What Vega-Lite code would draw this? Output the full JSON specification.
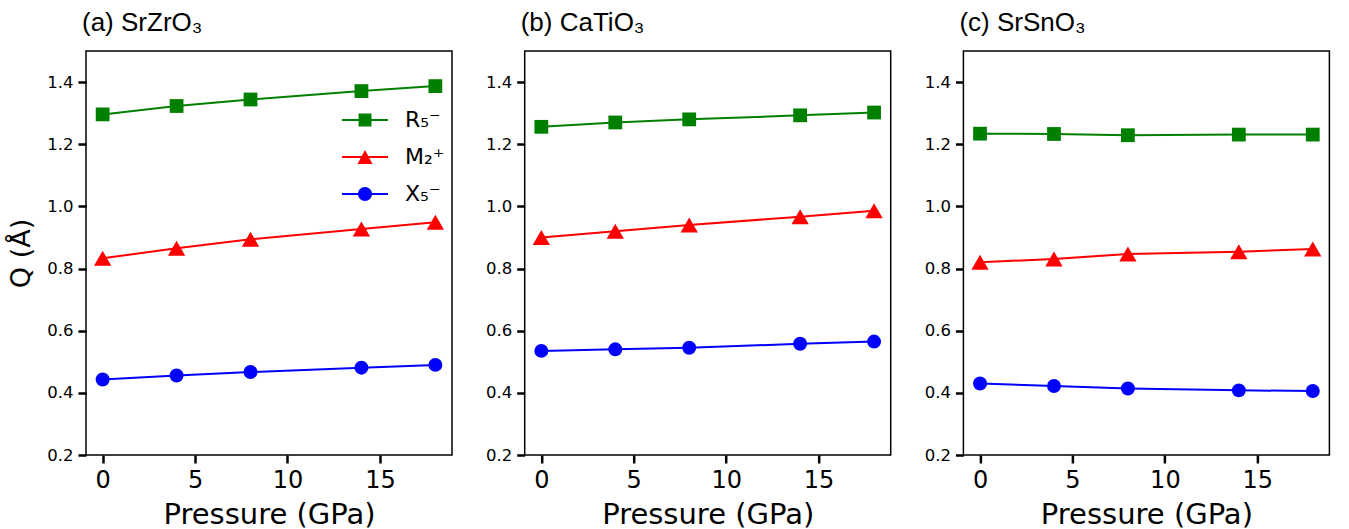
{
  "$schema": "https://vega.github.io/schema/vega-lite/v6.json",
  "autosize": {"type": "pad"},
  "padding": {"left": 7, "top": 9, "right": 0, "bottom": 0},
  "background": "white",
  "spacing": 72.7,
  "bounds": "flush",
  "config": {
    "view": {"stroke": "black", "strokeWidth": 1.5},
    "axis": {"domain": false, "grid": false, "tickColor": "black", "tickWidth": 2.5, "tickSize": 8, "labelColor": "black", "labelFont": "DejaVu Sans", "titleFont": "DejaVu Sans", "titleFontWeight": "normal", "titleColor": "black"},
    "axisX": {"labelFontSize": 24, "titleFontSize": 29, "labelPadding": 5, "titlePadding": 8},
    "axisY": {"labelFontSize": 16.5, "labelPadding": 5, "titleFontSize": 27, "titlePadding": 11},
    "title": {"anchor": "start", "frame": "group", "font": "Liberation Sans", "fontSize": 26, "fontWeight": "normal", "color": "black", "offset": 15, "dx": -4}
  },
  "datasets": {
    "d": [
      {"panel": "a", "series": "R₅⁻", "P": 0, "Q": 1.296},
      {"panel": "a", "series": "R₅⁻", "P": 4, "Q": 1.323},
      {"panel": "a", "series": "R₅⁻", "P": 8, "Q": 1.344},
      {"panel": "a", "series": "R₅⁻", "P": 14, "Q": 1.371},
      {"panel": "a", "series": "R₅⁻", "P": 18, "Q": 1.387},
      {"panel": "a", "series": "M₂⁺", "P": 0, "Q": 0.833},
      {"panel": "a", "series": "M₂⁺", "P": 4, "Q": 0.865},
      {"panel": "a", "series": "M₂⁺", "P": 8, "Q": 0.894},
      {"panel": "a", "series": "M₂⁺", "P": 14, "Q": 0.927},
      {"panel": "a", "series": "M₂⁺", "P": 18, "Q": 0.949},
      {"panel": "a", "series": "X₅⁻", "P": 0, "Q": 0.443},
      {"panel": "a", "series": "X₅⁻", "P": 4, "Q": 0.456},
      {"panel": "a", "series": "X₅⁻", "P": 8, "Q": 0.467},
      {"panel": "a", "series": "X₅⁻", "P": 14, "Q": 0.481},
      {"panel": "a", "series": "X₅⁻", "P": 18, "Q": 0.490},
      {"panel": "b", "series": "R₅⁻", "P": 0, "Q": 1.256},
      {"panel": "b", "series": "R₅⁻", "P": 4, "Q": 1.270},
      {"panel": "b", "series": "R₅⁻", "P": 8, "Q": 1.280},
      {"panel": "b", "series": "R₅⁻", "P": 14, "Q": 1.293},
      {"panel": "b", "series": "R₅⁻", "P": 18, "Q": 1.302},
      {"panel": "b", "series": "M₂⁺", "P": 0, "Q": 0.900},
      {"panel": "b", "series": "M₂⁺", "P": 4, "Q": 0.920},
      {"panel": "b", "series": "M₂⁺", "P": 8, "Q": 0.940},
      {"panel": "b", "series": "M₂⁺", "P": 14, "Q": 0.967},
      {"panel": "b", "series": "M₂⁺", "P": 18, "Q": 0.986},
      {"panel": "b", "series": "X₅⁻", "P": 0, "Q": 0.535},
      {"panel": "b", "series": "X₅⁻", "P": 4, "Q": 0.540},
      {"panel": "b", "series": "X₅⁻", "P": 8, "Q": 0.545},
      {"panel": "b", "series": "X₅⁻", "P": 14, "Q": 0.558},
      {"panel": "b", "series": "X₅⁻", "P": 18, "Q": 0.565},
      {"panel": "c", "series": "R₅⁻", "P": 0, "Q": 1.234},
      {"panel": "c", "series": "R₅⁻", "P": 4, "Q": 1.233},
      {"panel": "c", "series": "R₅⁻", "P": 8, "Q": 1.229},
      {"panel": "c", "series": "R₅⁻", "P": 14, "Q": 1.231},
      {"panel": "c", "series": "R₅⁻", "P": 18, "Q": 1.231},
      {"panel": "c", "series": "M₂⁺", "P": 0, "Q": 0.820},
      {"panel": "c", "series": "M₂⁺", "P": 4, "Q": 0.831},
      {"panel": "c", "series": "M₂⁺", "P": 8, "Q": 0.847},
      {"panel": "c", "series": "M₂⁺", "P": 14, "Q": 0.854},
      {"panel": "c", "series": "M₂⁺", "P": 18, "Q": 0.863},
      {"panel": "c", "series": "X₅⁻", "P": 0, "Q": 0.430},
      {"panel": "c", "series": "X₅⁻", "P": 4, "Q": 0.422},
      {"panel": "c", "series": "X₅⁻", "P": 8, "Q": 0.414},
      {"panel": "c", "series": "X₅⁻", "P": 14, "Q": 0.408},
      {"panel": "c", "series": "X₅⁻", "P": 18, "Q": 0.406}
    ]
  },
  "hconcat": [
    {
      "width": 366, "height": 404,
      "title": {"text": "(a)  SrZrO₃"},
      "data": {"name": "d"},
      "transform": [{"filter": "datum.panel === 'a'"}],
      "encoding": {
        "x": {"field": "P", "type": "quantitative", "scale": {"domain": [-0.9, 18.9], "nice": false, "zero": false}, "axis": {"values": [0, 5, 10, 15], "title": "Pressure (GPa)"}},
        "y": {"field": "Q", "type": "quantitative", "scale": {"domain": [0.2, 1.5], "nice": false, "zero": false}, "axis": {"values": [0.2, 0.4, 0.6, 0.8, 1.0, 1.2, 1.4], "format": ".1f", "title": "Q (Å)"}},
        "color": {"field": "series", "type": "nominal", "scale": {"domain": ["R₅⁻", "M₂⁺", "X₅⁻"], "range": ["#008000", "#ff0000", "#0000ff"]},
          "legend": {
            "title": null, "orient": "none", "legendX": 260.5, "legendY": 50.5, "padding": 0,
            "symbolSize": 1369, "symbolStrokeWidth": 0, "symbolOpacity": 1,
            "labelFont": "DejaVu Sans", "labelFontSize": 22, "labelColor": "black", "labelOffset": 21.5, "rowPadding": 7,
            "encode": {"symbols": {"update": {
              "size": {"value": 1369},
              "strokeWidth": {"value": 0},
              "opacity": {"value": 1},
              "fillOpacity": {"value": 1},
              "fill": [
                {"test": "datum.value === 'R₅⁻'", "value": "#008000"},
                {"test": "datum.value === 'M₂⁺'", "value": "#ff0000"},
                {"value": "#0000ff"}
              ],
              "shape": [
                {"test": "datum.value === 'R₅⁻'", "value": "M-1.243,-0.054H1.243V0.054H-1.243Z M-0.351,-0.351H0.351V0.351H-0.351Z"},
                {"test": "datum.value === 'M₂⁺'", "value": "M-1.243,-0.054H1.243V0.054H-1.243Z M0,-0.378L0.405,0.378H-0.405Z"},
                {"value": "M-1.243,-0.054H1.243V0.054H-1.243Z M-0.378,0A0.378,0.378 0 1,1 0.378,0A0.378,0.378 0 1,1 -0.378,0Z"}
              ]
            }}}
          }
        }
      },
      "layer": [
        {"mark": {"type": "line", "strokeWidth": 2}},
        {"transform": [{"filter": "datum.series === 'R₅⁻'"}], "mark": {"type": "point", "shape": "square", "size": 190, "filled": true, "opacity": 1}},
        {"transform": [{"filter": "datum.series === 'M₂⁺'"}], "mark": {"type": "point", "shape": "triangle-up", "size": 300, "filled": true, "opacity": 1}},
        {"transform": [{"filter": "datum.series === 'X₅⁻'"}], "mark": {"type": "point", "shape": "circle", "size": 195, "filled": true, "opacity": 1}}
      ]
    },
    {
      "width": 366, "height": 404,
      "title": {"text": "(b)  CaTiO₃"},
      "data": {"name": "d"},
      "transform": [{"filter": "datum.panel === 'b'"}],
      "encoding": {
        "x": {"field": "P", "type": "quantitative", "scale": {"domain": [-0.9, 18.9], "nice": false, "zero": false}, "axis": {"values": [0, 5, 10, 15], "title": "Pressure (GPa)"}},
        "y": {"field": "Q", "type": "quantitative", "scale": {"domain": [0.2, 1.5], "nice": false, "zero": false}, "axis": {"values": [0.2, 0.4, 0.6, 0.8, 1.0, 1.2, 1.4], "format": ".1f", "title": null}},
        "color": {"field": "series", "type": "nominal", "scale": {"domain": ["R₅⁻", "M₂⁺", "X₅⁻"], "range": ["#008000", "#ff0000", "#0000ff"]}, "legend": null}
      },
      "layer": [
        {"mark": {"type": "line", "strokeWidth": 2}},
        {"transform": [{"filter": "datum.series === 'R₅⁻'"}], "mark": {"type": "point", "shape": "square", "size": 190, "filled": true, "opacity": 1}},
        {"transform": [{"filter": "datum.series === 'M₂⁺'"}], "mark": {"type": "point", "shape": "triangle-up", "size": 300, "filled": true, "opacity": 1}},
        {"transform": [{"filter": "datum.series === 'X₅⁻'"}], "mark": {"type": "point", "shape": "circle", "size": 195, "filled": true, "opacity": 1}}
      ]
    },
    {
      "width": 366, "height": 404,
      "title": {"text": "(c)  SrSnO₃"},
      "data": {"name": "d"},
      "transform": [{"filter": "datum.panel === 'c'"}],
      "encoding": {
        "x": {"field": "P", "type": "quantitative", "scale": {"domain": [-0.9, 18.9], "nice": false, "zero": false}, "axis": {"values": [0, 5, 10, 15], "title": "Pressure (GPa)"}},
        "y": {"field": "Q", "type": "quantitative", "scale": {"domain": [0.2, 1.5], "nice": false, "zero": false}, "axis": {"values": [0.2, 0.4, 0.6, 0.8, 1.0, 1.2, 1.4], "format": ".1f", "title": null}},
        "color": {"field": "series", "type": "nominal", "scale": {"domain": ["R₅⁻", "M₂⁺", "X₅⁻"], "range": ["#008000", "#ff0000", "#0000ff"]}, "legend": null}
      },
      "layer": [
        {"mark": {"type": "line", "strokeWidth": 2}},
        {"transform": [{"filter": "datum.series === 'R₅⁻'"}], "mark": {"type": "point", "shape": "square", "size": 190, "filled": true, "opacity": 1}},
        {"transform": [{"filter": "datum.series === 'M₂⁺'"}], "mark": {"type": "point", "shape": "triangle-up", "size": 300, "filled": true, "opacity": 1}},
        {"transform": [{"filter": "datum.series === 'X₅⁻'"}], "mark": {"type": "point", "shape": "circle", "size": 195, "filled": true, "opacity": 1}}
      ]
    }
  ],
  "resolve": {"scale": {"color": "independent"}, "legend": {"color": "independent"}}
}
